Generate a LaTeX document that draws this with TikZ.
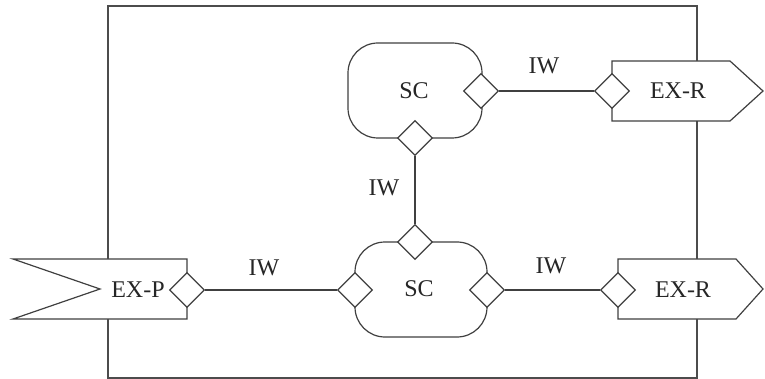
\documentclass[tikz,border=0pt]{standalone}
\usepackage{fontspec}
\setmainfont{Liberation Serif}
\usetikzlibrary{shapes.geometric}
\begin{document}
\begin{tikzpicture}[x=1pt,y=-1pt,
  outline/.style={draw=black!75,line width=1.2pt,fill=white,line join=miter},
  port/.style={shape=diamond,draw=black!75,line width=1.2pt,fill=white,
    minimum width=35pt,minimum height=35pt,inner sep=0pt},
  wire/.style={draw=black!75,line width=1.2pt},
  lbl/.style={font=\fontsize{24}{28}\selectfont,text=black!85,inner sep=0pt},
  sc/.style={outline,rounded corners=30pt}]
\useasboundingbox (0,0) rectangle (765,379);
% system boundary
\draw[draw=black!70,line width=1.6pt] (108,6) rectangle (697,378);
% service components
\draw[sc] (348,43) rectangle (482,138);
\draw[sc] (355,242) rectangle (487,337);
\node[lbl] (sc1) at (414,91) {SC};
\node[lbl] (sc2) at (419,289) {SC};
% external provider and receivers
\draw[outline] (13,259) -- (187,259) -- (187,319) -- (13,319) -- (100,289) -- cycle;
\draw[outline] (612,61) -- (730,61) -- (763,91) -- (730,121) -- (612,121) -- cycle;
\draw[outline] (618,259) -- (736,259) -- (763,289) -- (736,319) -- (618,319) -- cycle;
\node[lbl] (exp) at (138,290) {EX-P};
\node[lbl] (exr1) at (678,91) {EX-R};
\node[lbl] (exr2) at (683,290) {EX-R};
% ports
\node[port] (pP) at (187,290) {};
\node[port] (p1r) at (481,91) {};
\node[port] (p1b) at (415,138) {};
\node[port] (p2t) at (415,242) {};
\node[port] (p2l) at (355,290) {};
\node[port] (p2r) at (487,290) {};
\node[port] (pR1) at (612,91) {};
\node[port] (pR2) at (618,290) {};
% interaction wires
\draw[wire] (pP.east) -- (p2l.west);
\draw[wire] (p2r.east) -- (pR2.west);
\draw[wire] (p1r.east) -- (pR1.west);
\draw[wire] (p1b.south) -- (p2t.north);
\node[lbl] (iw1) at (264,268) {IW};
\node[lbl] (iw2) at (384,188) {IW};
\node[lbl] (iw3) at (544,66) {IW};
\node[lbl] (iw4) at (551,266) {IW};
\end{tikzpicture}
\end{document}
